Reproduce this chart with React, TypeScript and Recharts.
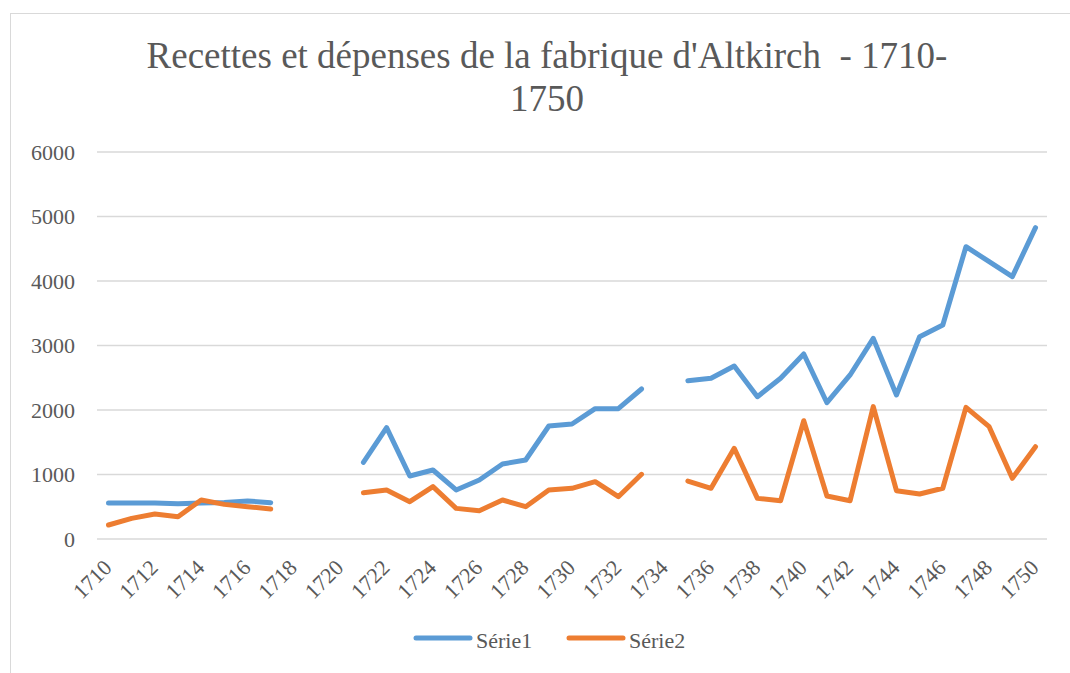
import { LineChart, Line, XAxis, YAxis, CartesianGrid } from 'recharts';

const years = [
  '1710', '1711', '1712', '1713', '1714', '1715', '1716', '1717', '1718', '1719',
  '1720', '1721', '1722', '1723', '1724', '1725', '1726', '1727', '1728', '1729',
  '1730', '1731', '1732', '1733', '1734', '1735', '1736', '1737', '1738', '1739',
  '1740', '1741', '1742', '1743', '1744', '1745', '1746', '1747', '1748', '1749',
  '1750',
];

const serie1 = [
  560, 560, 560, 545, 560, 565, 590, 563, null, null,
  null, 1189, 1726, 977, 1070, 760, 915, 1163, 1225, 1752,
  1783, 2021, 2021, 2326, null, 2455, 2491, 2682, 2206, 2491,
  2868, 2113, 2543, 3111, 2233, 3137, 3318, 4532, 4300, 4067,
  4827,
];

const serie2 = [
  217, 320, 387, 346, 605, 537, 501, 465, null, null,
  null, 718, 760, 579, 811, 475, 439, 605, 501, 760,
  786, 889, 656, 1003, null, 899, 786, 1406, 630, 594,
  1834, 667, 594, 2052, 749, 698, 786, 2041, 1741, 941,
  1431,
];

const yTicks = [0, 1000, 2000, 3000, 4000, 5000, 6000];

const seriesNames = ['Série1', 'Série2'];
const seriesColors = ['#5B9BD5', '#ED7D31'];

const titleLines = ["Recettes et dépenses de la fabrique d'Altkirch  - 1710-", '1750'];

const data = years.map((year, i) => ({ year, s1: serie1[i], s2: serie2[i] }));

const FONT = '"Liberation Serif", "Times New Roman", serif';
const TEXT = '#595959';

function YearTick({ x, y, payload }: any) {
  return (
    <g transform={`translate(${x + 4.5},${y + 22})`}>
      <text
        x={0}
        y={0}
        textAnchor="end"
        transform="rotate(-45)"
        fill={TEXT}
        fontSize={22}
        fontFamily={FONT}
      >
        {payload.value}
      </text>
    </g>
  );
}

export default function App() {
  return (
    <div
      style={{
        position: 'absolute',
        left: 0,
        top: 0,
        width: 1070,
        height: 673,
        overflow: 'hidden',
        background: '#fff',
        fontFamily: FONT,
      }}
    >
      <div
        style={{
          position: 'absolute',
          left: 10,
          top: 13,
          width: 1100,
          height: 700,
          border: '1px solid #d9d9d9',
        }}
      />
      {titleLines.map((line, i) => (
        <div
          key={i}
          style={{
            position: 'absolute',
            left: 0,
            width: 1094,
            top: 34 + i * 43,
            textAlign: 'center',
            fontSize: 37,
            lineHeight: '43px',
            color: TEXT,
            whiteSpace: 'pre',
          }}
        >
          {line}
        </div>
      ))}
      <div style={{ position: 'absolute', left: 0, top: 0 }}>
        <LineChart
          width={1070}
          height={673}
          data={data}
          margin={{ top: 152, right: 23, bottom: 104, left: 0 }}
        >
          <CartesianGrid vertical={false} stroke="#d9d9d9" strokeWidth={1.5} />
          <XAxis
            dataKey="year"
            interval={1}
            axisLine={false}
            tickLine={false}
            height={30}
            padding={{ left: 11.5, right: 11.5 }}
            tick={<YearTick />}
          />
          <YAxis
            domain={[0, 6000]}
            ticks={yTicks}
            width={97}
            axisLine={false}
            tickLine={false}
            tickMargin={16}
            tick={{ fill: TEXT, fontSize: 22, fontFamily: FONT }}
          />
          <Line
            dataKey="s1"
            name={seriesNames[0]}
            stroke={seriesColors[0]}
            strokeWidth={5}
            strokeLinecap="round"
            strokeLinejoin="round"
            dot={false}
            activeDot={false}
            isAnimationActive={false}
          />
          <Line
            dataKey="s2"
            name={seriesNames[1]}
            stroke={seriesColors[1]}
            strokeWidth={5}
            strokeLinecap="round"
            strokeLinejoin="round"
            dot={false}
            activeDot={false}
            isAnimationActive={false}
          />
        </LineChart>
      </div>
      <svg
        width={1070}
        height={673}
        style={{ position: 'absolute', left: 0, top: 0, pointerEvents: 'none' }}
      >
        {seriesNames.map((name, i) => {
          const x0 = 416 + i * 153;
          return (
            <g key={name}>
              <line
                x1={x0}
                y1={638}
                x2={x0 + 54}
                y2={638}
                stroke={seriesColors[i]}
                strokeWidth={5}
                strokeLinecap="round"
              />
              <text x={x0 + 60} y={648} fill={TEXT} fontSize={22} fontFamily={FONT}>
                {name}
              </text>
            </g>
          );
        })}
      </svg>
    </div>
  );
}
